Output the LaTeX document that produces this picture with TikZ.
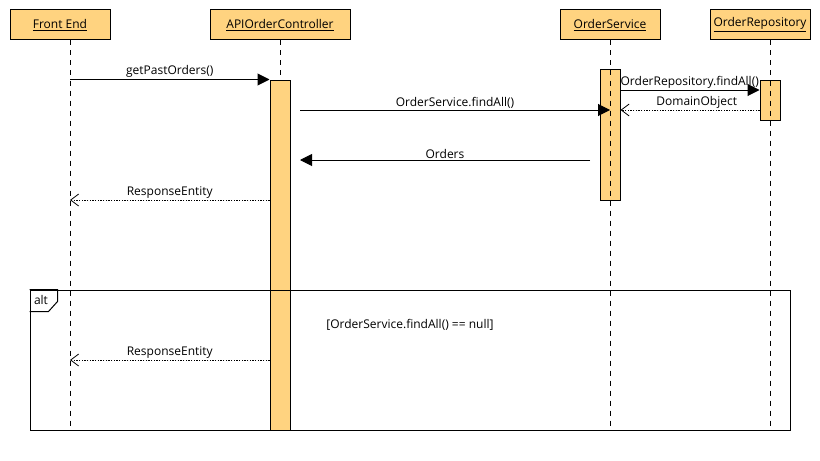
\documentclass[tikz,border=0pt]{standalone}
\usepackage{fontspec}
\setmainfont{Open Sans}
\usepackage{tikz}
\usetikzlibrary{arrows.meta}

\definecolor{barfill}{RGB}{255,211,128}

\tikzset{
	headbox/.style={draw, fill=barfill, line width=0.75pt, minimum height=22.5pt, inner sep=0pt, font=\fontsize{9}{10}\selectfont},
	actbar/.style={draw, fill=barfill, line width=0.75pt, minimum width=15pt, inner sep=0pt},
	lifeline/.style={line width=0.75pt, dash pattern=on 3.75pt off 3.75pt},
	callmsg/.style={line width=0.75pt, -{Triangle[length=9pt,width=9pt]}},
	replymsg/.style={line width=0.6pt, dash pattern=on 1pt off 1pt, -{Straight Barb[length=6pt,width=9pt,line width=0.6pt]}},
	msglabel/.style={font=\fontsize{9}{10}\selectfont, inner sep=1pt, anchor=south},
}

\begin{document}
\begin{tikzpicture}[x=0.75pt,y=0.75pt,yscale=-1,xscale=1]
	\useasboundingbox (0,0) rectangle (820,460);
	
	%Lifeline heads
	\node[headbox, minimum width=75pt] (fe) at (60,25) {\underline{Front End}};
	\node[headbox, minimum width=105pt] (ctrl) at (280,25) {\underline{APIOrderController}};
	\node[headbox, minimum width=75pt] (svc) at (610,25) {\underline{OrderService}};
	\node[headbox, minimum width=75pt] (repo) at (760,25) {\underline{OrderRepository}};
	
	%Lifelines (start points)
	\coordinate (feLine) at ([xshift=7.5pt]fe.south);
	\coordinate (repoLine) at ([xshift=7.5pt]repo.south);
	\draw[lifeline] (feLine) -- ++(0,390);
	\draw[lifeline] (ctrl.south) -- ++(0,40);
	
	%Activation bar of the controller
	\node[actbar, minimum height=262.5pt] (ctrlbar) at (280,255) {};
	
	%Alt frame
	\node[draw, line width=0.75pt, minimum width=570pt, minimum height=105pt, inner sep=0pt] (altframe) at (410,360) {};
	\draw[line width=0.75pt] (altframe.north west) -- ++(28,0) -- ++(0,12) -- ++(-9,10) -- ++(-19,0);
	\node[font=\fontsize{9}{10}\selectfont, inner sep=0pt] (alttag) at (41,300) {alt};
	\node[font=\fontsize{9}{10}\selectfont, inner sep=0pt] (guard) at (410,325) {[OrderService.findAll() == null]};
	
	%Activation bars of service and repository
	\node[actbar, minimum height=97.5pt] (svcbar) at (610,135) {};
	\node[actbar, minimum height=30pt] (repobar) at (770,100) {};
	\draw[lifeline] (svc.south) -- ++(0,390);
	\draw[lifeline] (repoLine) -- ++(0,390);
	
	%Message ends
	\coordinate (findCall) at (300,110);
	\coordinate (repoCall) at (620,90);
	\coordinate (domRow) at (0,110);
	\coordinate (ordStart) at (590,160);
	\coordinate (ordEnd) at (300,160);
	\coordinate (respRow) at (0,200);
	\coordinate (altRow) at (0,360);
	
	%Messages
	\draw[callmsg] (feLine |- ctrlbar.north) -- (ctrlbar.north west) node[midway, msglabel] {getPastOrders()};
	\draw[callmsg] (findCall) -- (svc.south |- findCall) node[midway, msglabel] {OrderService.findAll()};
	\draw[callmsg] (repoCall) -- (repobar.west |- repoCall) node[midway, msglabel] {OrderRepository.findAll()};
	\draw[replymsg] (repobar.west |- domRow) -- (svcbar.east |- domRow) node[midway, msglabel, xshift=5pt] {DomainObject};
	\draw[callmsg] (ordStart) -- (ordEnd) node[midway, msglabel] {Orders};
	\draw[replymsg] (ctrlbar.west |- respRow) -- (feLine |- respRow) node[midway, msglabel] {ResponseEntity};
	\draw[replymsg] (ctrlbar.west |- altRow) -- (feLine |- altRow) node[midway, msglabel] {ResponseEntity};
	
\end{tikzpicture}
\end{document}
